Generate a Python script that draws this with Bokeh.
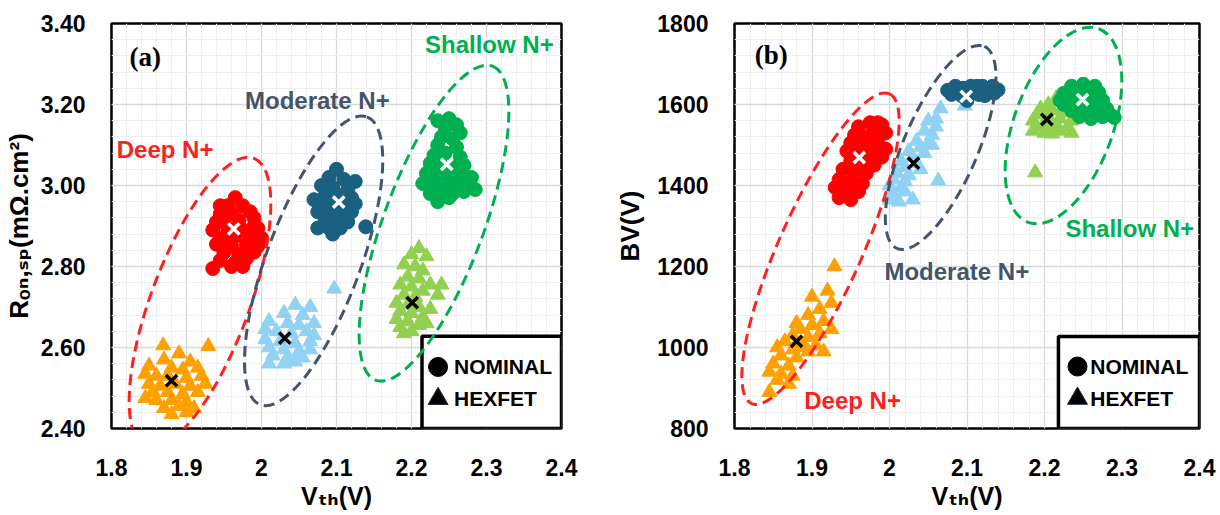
import numpy as np
from bokeh.plotting import figure
from bokeh.layouts import row
from bokeh.models import FixedTicker, Label, BoxAnnotation
from bokeh.embed import file_html
from bokeh.resources import INLINE

# ---------------- ticks ----------------
vth_ticks = [1.8, 1.9, 2.0, 2.1, 2.2, 2.3, 2.4]
vth_tick_labels = ["1.8", "1.9", "2", "2.1", "2.2", "2.3", "2.4"]
ron_ticks = [2.4, 2.6, 2.8, 3.0, 3.2, 3.4]
ron_tick_labels = ["2.40", "2.60", "2.80", "3.00", "3.20", "3.40"]
bv_ticks = [800, 1000, 1200, 1400, 1600, 1800]
bv_tick_labels = ["800", "1000", "1200", "1400", "1600", "1800"]

x_title = "V\u209c\u2095(V)"
ya_title = "R\u2092\u2099,\u209b\u209a(m\u03a9.cm\u00b2)"
yb_title = "BV(V)"

# ---------------- panel (a): Vth vs Ron,sp ----------------
deep_nom_a = [(1.965, 2.97), (1.955, 2.95), (1.975, 2.95), (1.945, 2.93), (1.96, 2.93), (1.985, 2.935),
              (1.94, 2.91), (1.95, 2.915), (1.97, 2.915), (1.99, 2.92), (1.935, 2.89), (1.955, 2.895),
              (1.975, 2.89), (1.995, 2.895), (1.945, 2.87), (1.965, 2.875), (1.985, 2.87), (2.0, 2.87),
              (1.94, 2.855), (1.96, 2.85), (1.98, 2.855), (1.995, 2.85), (1.95, 2.835), (1.97, 2.83),
              (1.99, 2.835), (1.945, 2.815), (1.965, 2.81), (1.98, 2.82), (1.935, 2.795), (1.96, 2.80),
              (1.975, 2.80), (1.945, 2.95), (1.99, 2.90), (1.955, 2.87)]
deep_hex_a = [(1.869, 2.605), (1.929, 2.603), (1.89, 2.585), (1.87, 2.57), (1.905, 2.565), (1.85, 2.555),
              (1.88, 2.55), (1.895, 2.545), (1.915, 2.55), (1.845, 2.535), (1.86, 2.53), (1.875, 2.53),
              (1.9, 2.525), (1.92, 2.53), (1.85, 2.51), (1.865, 2.505), (1.885, 2.51), (1.905, 2.505),
              (1.925, 2.51), (1.855, 2.49), (1.875, 2.49), (1.895, 2.485), (1.915, 2.49), (1.86, 2.47),
              (1.88, 2.47), (1.9, 2.465), (1.87, 2.45), (1.89, 2.455), (1.91, 2.45), (1.88, 2.435),
              (1.9, 2.44), (1.845, 2.475)]
mod_nom_a = [(2.10, 3.04), (2.09, 3.02), (2.11, 3.015), (2.125, 3.01), (2.08, 3.0), (2.095, 2.995),
             (2.115, 2.99), (2.085, 2.975), (2.105, 2.975), (2.12, 2.97), (2.08, 2.955), (2.095, 2.955),
             (2.11, 2.95), (2.075, 2.935), (2.09, 2.935), (2.105, 2.93), (2.12, 2.935), (2.085, 2.915),
             (2.1, 2.915), (2.115, 2.91), (2.075, 2.895), (2.09, 2.895), (2.105, 2.895), (2.095, 2.88),
             (2.139, 2.898), (2.125, 2.955), (2.07, 2.965)]
mod_hex_a = [(2.097, 2.745), (2.045, 2.705), (2.065, 2.70), (2.03, 2.685), (2.055, 2.68), (2.01, 2.665),
             (2.035, 2.66), (2.05, 2.655), (2.07, 2.66), (2.005, 2.645), (2.02, 2.64), (2.04, 2.635),
             (2.06, 2.64), (2.005, 2.62), (2.025, 2.615), (2.045, 2.61), (2.065, 2.615), (2.01, 2.60),
             (2.03, 2.595), (2.05, 2.59), (2.065, 2.595), (2.015, 2.58), (2.035, 2.575), (2.055, 2.575),
             (2.01, 2.56), (2.03, 2.56), (2.045, 2.565), (2.07, 2.63)]
sha_nom_a = [(2.235, 3.16), (2.25, 3.165), (2.26, 3.15), (2.245, 3.14), (2.265, 3.13), (2.24, 3.12),
             (2.255, 3.115), (2.235, 3.10), (2.26, 3.095), (2.245, 3.08), (2.23, 3.075), (2.265, 3.07),
             (2.225, 3.055), (2.24, 3.05), (2.255, 3.045), (2.27, 3.05), (2.22, 3.03), (2.235, 3.025),
             (2.25, 3.02), (2.265, 3.025), (2.28, 3.02), (2.215, 3.005), (2.23, 3.0), (2.245, 2.995),
             (2.26, 3.0), (2.275, 2.995), (2.285, 2.99), (2.225, 2.98), (2.24, 2.975), (2.255, 2.98),
             (2.27, 2.985), (2.235, 2.96), (2.25, 2.97)]
sha_hex_a = [(2.21, 2.845), (2.2, 2.83), (2.22, 2.825), (2.19, 2.805), (2.205, 2.80), (2.215, 2.79),
             (2.195, 2.775), (2.21, 2.77), (2.225, 2.755), (2.185, 2.755), (2.2, 2.75), (2.215, 2.74),
             (2.235, 2.73), (2.19, 2.73), (2.205, 2.725), (2.18, 2.71), (2.195, 2.705), (2.21, 2.70),
             (2.225, 2.695), (2.185, 2.69), (2.2, 2.685), (2.215, 2.675), (2.18, 2.67), (2.195, 2.665),
             (2.21, 2.655), (2.185, 2.65), (2.2, 2.64), (2.19, 2.635), (2.24, 2.755), (2.22, 2.66)]
means_nom_a = [(1.963, 2.893), (2.103, 2.959), (2.247, 3.052)]
means_hex_a = [(1.880, 2.518), (2.031, 2.623), (2.201, 2.711)]

# ---------------- panel (b): Vth vs BV ----------------
deep_nom_b = [(1.975, 1555), (1.99, 1550), (1.96, 1545), (1.98, 1535), (1.995, 1530), (1.955, 1525),
              (1.97, 1520), (1.985, 1515), (1.95, 1505), (1.965, 1500), (1.98, 1495), (1.995, 1490),
              (1.945, 1485), (1.96, 1480), (1.975, 1475), (1.99, 1470), (1.95, 1460), (1.965, 1455),
              (1.98, 1450), (1.94, 1440), (1.955, 1435), (1.97, 1430), (1.935, 1415), (1.95, 1410),
              (1.965, 1405), (1.93, 1395), (1.945, 1390), (1.96, 1385), (1.935, 1370), (1.95, 1365),
              (1.94, 1380), (1.985, 1555)]
deep_hex_b = [(1.929, 1200), (1.92, 1140), (1.90, 1125), (1.925, 1110), (1.91, 1095), (1.895, 1080),
              (1.915, 1065), (1.90, 1055), (1.885, 1045), (1.925, 1045), (1.91, 1035), (1.875, 1030),
              (1.895, 1025), (1.865, 1015), (1.885, 1010), (1.905, 1005), (1.855, 1000), (1.875, 995),
              (1.895, 990), (1.915, 990), (1.86, 980), (1.88, 975), (1.85, 960), (1.87, 955),
              (1.845, 940), (1.86, 935), (1.875, 930), (1.855, 920), (1.87, 910), (1.845, 890),
              (1.89, 1000), (1.88, 1060)]
mod_nom_b = [(2.075, 1635), (2.08, 1625), (2.085, 1645), (2.09, 1630), (2.095, 1640), (2.10, 1625),
             (2.105, 1645), (2.11, 1635), (2.115, 1625), (2.12, 1645), (2.125, 1632), (2.13, 1640),
             (2.135, 1628), (2.14, 1636), (2.083, 1638), (2.093, 1622), (2.103, 1636), (2.113, 1645),
             (2.123, 1622), (2.133, 1645), (2.1, 1610), (2.098, 1618)]
mod_hex_b = [(2.066, 1590), (2.097, 1597), (2.05, 1560), (2.06, 1545), (2.045, 1535), (2.055, 1525),
             (2.035, 1510), (2.05, 1505), (2.04, 1495), (2.025, 1485), (2.045, 1480), (2.03, 1470),
             (2.015, 1460), (2.035, 1455), (2.02, 1445), (2.04, 1440), (2.01, 1430), (2.025, 1425),
             (2.005, 1415), (2.02, 1410), (2.063, 1412), (2.0, 1400), (2.015, 1395), (2.005, 1380),
             (2.02, 1385), (2.0, 1365), (2.012, 1360), (2.03, 1365), (2.055, 1500), (2.06, 1565)]
sha_nom_b = [(2.235, 1645), (2.25, 1650), (2.265, 1645), (2.24, 1630), (2.255, 1635), (2.27, 1630),
             (2.23, 1615), (2.245, 1615), (2.26, 1618), (2.275, 1610), (2.225, 1600), (2.24, 1598),
             (2.255, 1600), (2.27, 1595), (2.28, 1590), (2.235, 1585), (2.25, 1582), (2.265, 1580),
             (2.285, 1575), (2.275, 1570), (2.29, 1568), (2.26, 1565), (2.245, 1570), (2.225, 1628),
             (2.22, 1610)]
sha_hex_b = [(2.215, 1615), (2.205, 1600), (2.225, 1598), (2.195, 1590), (2.21, 1585), (2.23, 1580),
             (2.19, 1575), (2.205, 1570), (2.22, 1565), (2.235, 1560), (2.185, 1560), (2.2, 1555),
             (2.215, 1550), (2.23, 1545), (2.19, 1545), (2.205, 1540), (2.22, 1535), (2.185, 1535),
             (2.2, 1530), (2.235, 1530), (2.21, 1528), (2.188, 1432), (2.225, 1590), (2.24, 1575)]
means_nom_b = [(1.961, 1469), (2.099, 1620), (2.249, 1612)]
means_hex_b = [(1.880, 1015), (2.031, 1455), (2.203, 1563)]

# group names / colours
groups = ["Deep N+", "Moderate N+", "Shallow N+"]
nom_colors = ["#ff0000", "#1a6080", "#00b050"]
hex_colors = ["#ffa000", "#8fd2f3", "#92d050"]
ring_colors = ["#ff2020", "#44546a", "#00b050"]
legend_names = ["NOMINAL", "HEXFET"]

# ellipse (center x, center y, major px, minor px, angle deg) per panel
rings_a = [(1.918, 2.711, 308, 98, 69.5), (2.0695, 2.814, 307, 94, 69.7), (2.230, 2.907, 335, 100, 69.6)]
rings_b = [(1.911, 1244, 339, 83, 66.0), (2.066, 1494, 220, 74, 66.6), (2.2245, 1548, 206, 99, 70.0)]
# group label positions (left x, middle y)
glabels_a = [(1.807, 3.089), (1.978, 3.211), (2.218, 3.349)]
glabels_b = [(1.890, 869), (1.9935, 1188), (2.227, 1294)]


def unzip(pairs):
    return [p[0] for p in pairs], [p[1] for p in pairs]


vth_minor = list(np.round(np.arange(1.8, 2.4001, 0.02), 3))

FONT = "Liberation Sans, DejaVu Sans, sans-serif"


def make_panel(width, bl, br, bt, bb, yr, yticks, ylabels, yminor, ytitle, ylab_standoff):
    p = figure(width=width, height=515, x_range=(1.8, 2.4), y_range=yr,
               output_backend="svg", toolbar_location=None,
               min_border_left=bl, min_border_right=br, min_border_top=bt, min_border_bottom=bb)
    p.background_fill_color = "white"
    p.border_fill_color = "white"
    p.outline_line_color = "black"
    p.outline_line_width = 2.5
    xt = FixedTicker(ticks=vth_ticks, minor_ticks=vth_minor)
    yt = FixedTicker(ticks=yticks, minor_ticks=yminor)
    p.xaxis.ticker = xt
    p.yaxis.ticker = yt
    p.xgrid.ticker = xt
    p.ygrid.ticker = yt
    p.xaxis.major_label_overrides = dict(zip(vth_ticks, vth_tick_labels))
    p.yaxis.major_label_overrides = dict(zip(yticks, ylabels))
    for ax in p.axis:
        ax.axis_line_color = None
        ax.major_tick_line_color = None
        ax.minor_tick_line_color = None
        ax.major_tick_out = 0
        ax.major_tick_in = 0
        ax.major_label_text_font = FONT
        ax.major_label_text_font_style = "bold"
        ax.major_label_text_font_size = "23px"
        ax.major_label_text_color = "black"
        ax.axis_label_text_font = FONT
        ax.axis_label_text_font_style = "bold"
        ax.axis_label_text_color = "black"
    p.xaxis.major_label_standoff = 26
    p.yaxis.major_label_standoff = 22
    p.xaxis.axis_label = x_title
    p.xaxis.axis_label_text_font_size = "25px"
    p.xaxis.axis_label_standoff = 3
    p.yaxis.axis_label = ytitle
    p.yaxis.axis_label_text_font_size = "26px"
    p.yaxis.axis_label_standoff = ylab_standoff
    for g in (p.xgrid, p.ygrid):
        g.grid_line_color = "#d9d9d9"
        g.grid_line_width = 1.3
        g.minor_grid_line_color = "#efefef"
        g.minor_grid_line_width = 1
    return p


def draw(p, noms, hexs, mnom, mhex, rings, glabels, legend_box, legend_pos, tag, tag_pos):
    lb = BoxAnnotation(left=legend_box[0], right=legend_box[1], bottom=legend_box[2], top=legend_box[3],
                       fill_color="white", fill_alpha=1, line_color="black", line_alpha=1,
                       line_width=3.5, level="underlay")
    p.add_layout(lb)
    for i in range(3):
        x, y = unzip(hexs[i])
        p.scatter(x, y, marker="triangle", size=15, fill_color=hex_colors[i], line_color=hex_colors[i])
        x, y = unzip(noms[i])
        p.scatter(x, y, marker="circle", size=14, fill_color=nom_colors[i], line_color=nom_colors[i])
    x, y = unzip(mnom)
    p.scatter(x, y, marker="x", size=16, line_color="white", line_width=3.5)
    x, y = unzip(mhex)
    p.scatter(x, y, marker="x", size=16, line_color="black", line_width=3.5)
    for i, (cx, cy, w, h, a) in enumerate(rings):
        p.ellipse(x=[cx], y=[cy], width=[w], height=[h], angle=[np.radians(a)],
                  width_units="screen", height_units="screen",
                  fill_color=None, line_color=ring_colors[i], line_width=3, line_dash="11 6")
    for i, (lx, ly) in enumerate(glabels):
        p.add_layout(Label(x=lx, y=ly, text=groups[i], text_font=FONT, text_font_style="bold",
                           text_font_size="24px", text_color=ring_colors[i],
                           text_align="left", text_baseline="middle"))
    (mx, ny, hy, tx) = legend_pos
    p.scatter([mx], [ny], marker="circle", size=19, fill_color="black", line_color="black")
    p.scatter([mx], [hy], marker="triangle", size=20, fill_color="black", line_color="#1f2a44")
    for name, yy in zip(legend_names, [ny, hy]):
        p.add_layout(Label(x=tx, y=yy, text=name, text_font=FONT, text_font_style="bold",
                           text_font_size="21px", text_color="black",
                           text_align="left", text_baseline="middle"))
    p.add_layout(Label(x=tag_pos[0], y=tag_pos[1], text=tag, text_font="Liberation Serif",
                       text_font_style="bold", text_font_size="27px", text_color="black",
                       text_align="left", text_baseline="middle"))


ron_minor = list(np.round(np.arange(2.4, 3.4001, 0.04), 3))
bv_minor = list(np.arange(800, 1801, 40))

pa = make_panel(608, 109, 47, 23, 84, (2.4, 3.4), ron_ticks, ron_tick_labels, ron_minor, ya_title, 4)
draw(pa, [deep_nom_a, mod_nom_a, sha_nom_a], [deep_hex_a, mod_hex_a, sha_hex_a],
     means_nom_a, means_hex_a, rings_a, glabels_a,
     (2.214, 2.4, 2.4, 2.628), (2.2354, 2.552, 2.4735, 2.2567), "(a)", (1.824, 3.317))

pb = make_panel(612, 126, 21, 23, 87, (800, 1800), bv_ticks, bv_tick_labels, bv_minor, yb_title, 9)
draw(pb, [deep_nom_b, mod_nom_b, sha_nom_b], [deep_hex_b, mod_hex_b, sha_hex_b],
     means_nom_b, means_hex_b, rings_b, glabels_b,
     (2.218, 2.4, 800, 1027), (2.2426, 953, 874, 2.259), "(b)", (1.826, 1721))

layout = row(pa, pb)
open("out.html", "w").write(file_html(layout, INLINE))
